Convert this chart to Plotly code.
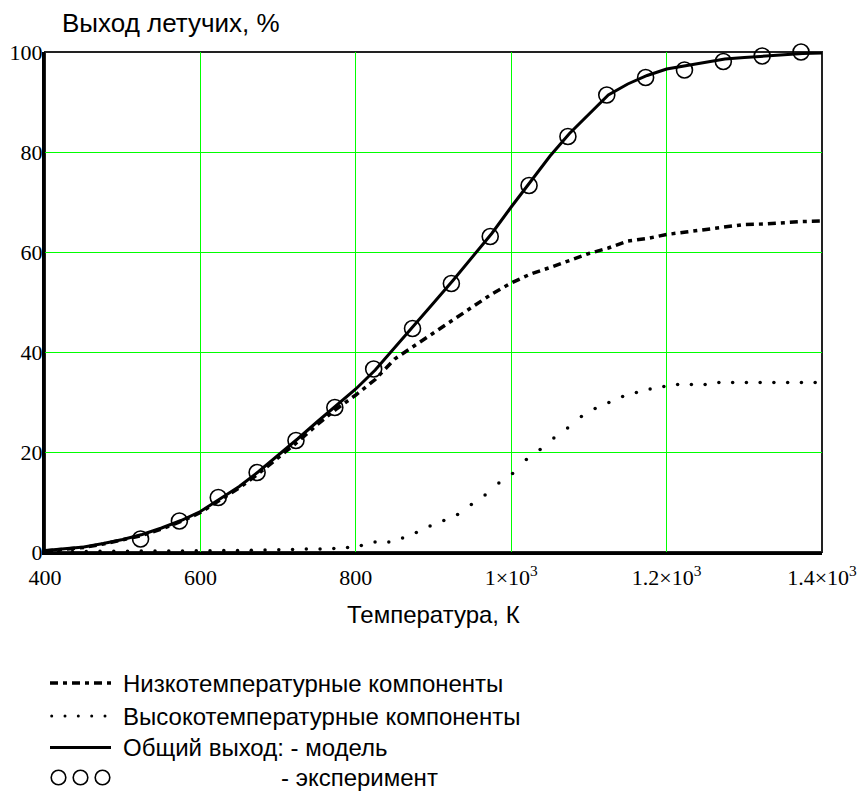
import plotly.graph_objects as go

# ---------------- data ----------------
T_grid = [400, 425, 450, 475, 500, 525, 550, 575, 600, 625, 650, 675, 700, 725, 750, 775,
          800, 825, 850, 875, 900, 925, 950, 975, 1000, 1025, 1050, 1075, 1100, 1125, 1150,
          1175, 1200, 1225, 1250, 1275, 1300, 1325, 1350, 1375, 1400]

low_temp = [0.2, 0.5, 0.9, 1.6, 2.4, 3.3, 4.6, 6.1, 7.9, 10.3, 12.8, 15.7, 18.8, 22.0, 25.4, 28.6,
            31.4, 34.5, 38.6, 41.3, 43.8, 46.4, 49.0, 51.6, 53.8, 55.6, 56.9, 58.3, 59.7, 60.8, 62.2,
            62.7, 63.5, 64.0, 64.5, 64.9, 65.5, 65.6, 65.9, 66.1, 66.2]

total_model = [0.3, 0.6, 1.0, 1.7, 2.5, 3.5, 4.8, 6.3, 8.1, 10.6, 13.1, 16.1, 19.3, 22.6, 26.0, 29.3,
               32.6, 36.4, 40.8, 45.2, 49.8, 54.3, 58.9, 63.7, 69.0, 74.2, 79.2, 83.7, 87.6, 91.4, 93.6,
               95.3, 96.6, 97.3, 98.0, 98.6, 98.9, 99.2, 99.4, 99.7, 99.8]

T_high = [400, 417.7, 435.4, 453.1, 470.8, 488.5, 506.2, 523.9, 541.6, 559.3, 577, 594.7, 612.4,
          630.1, 647.8, 665.5, 683.2, 700.9, 718.6, 736.3, 754, 771.7, 789.4, 807.1, 824.8, 842.5,
          860.2, 877.9, 895.6, 913.3, 931, 948.7, 966.4, 984.1, 1001.8, 1019.5, 1037.2, 1054.9,
          1072.6, 1090.3, 1108, 1125.7, 1143.4, 1161.1, 1178.8, 1196.5, 1214.2, 1231.9, 1249.6,
          1267.3, 1285, 1302.7, 1320.4, 1338.1, 1355.8, 1373.5, 1391.2]

high_temp = [0.1, 0.1, 0.1, 0.1, 0.15, 0.15, 0.15, 0.2, 0.2, 0.2, 0.2, 0.25, 0.25,
             0.3, 0.3, 0.35, 0.4, 0.45, 0.5, 0.6, 0.6, 0.7, 0.9, 1.3, 2.0, 2.0,
             2.8, 3.9, 5.2, 6.3, 7.5, 9.5, 11.4, 13.8, 15.7, 18.5, 20.5, 22.8,
             24.8, 27.1, 28.7, 29.9, 31.1, 31.9, 32.6, 33.1, 33.5, 33.5, 33.5,
             33.9, 33.9, 33.9, 33.9, 33.9, 33.9, 33.9, 33.9]

T_exp = [523, 573, 623, 673, 723, 773, 823, 873, 923, 973, 1023, 1073, 1123, 1173, 1223, 1273, 1323, 1373]
exp_yield = [2.6, 6.2, 10.9, 15.9, 22.3, 28.9, 36.6, 44.7, 53.7, 63.1, 73.3, 83.1, 91.4, 94.9, 96.4, 98.1, 99.2, 100.0]

x_tickvals = [400, 600, 800, 1000, 1200, 1400]
x_ticktext = ["400", "600", "800", "1×10<sup>3</sup>", "1.2×10<sup>3</sup>", "1.4×10<sup>3</sup>"]
y_tickvals = [0, 20, 40, 60, 80, 100]

y_title = "Выход летучих, %"
x_title = "Температура, К"
legend_texts = ["Низкотемпературные компоненты", "Высокотемпературные компоненты",
                "Общий выход: - модель", "- эксперимент"]

# ---------------- layout geometry (pixels) ----------------
W, H = 865, 791
ML, MR, MT, MB = 45, 43, 52, 239
PW = W - ML - MR
PH = H - MT - MB


def px(x):
    return (x - ML) / PW


def py(y):
    return (H - MB - y) / PH


DASHDOT = "8px,5px,4px,5px"
SANS = "Liberation Sans, Arial, sans-serif"
SERIF = "Liberation Serif, Times New Roman, serif"

fig = go.Figure()

fig.add_trace(go.Scatter(x=T_grid, y=low_temp, mode="lines",
                         line=dict(color="black", width=3.5, dash=DASHDOT),
                         name=legend_texts[0], showlegend=False))
fig.add_trace(go.Scatter(x=T_high, y=high_temp, mode="markers",
                         marker=dict(color="black", size=3.5, symbol="circle"),
                         name=legend_texts[1], showlegend=False))
fig.add_trace(go.Scatter(x=T_grid, y=total_model, mode="lines",
                         line=dict(color="black", width=3),
                         name=legend_texts[2], showlegend=False))
fig.add_trace(go.Scatter(x=T_exp, y=exp_yield, mode="markers",
                         marker=dict(symbol="circle-open", size=16, color="black",
                                     line=dict(width=1.6, color="black")),
                         name=legend_texts[3], showlegend=False, cliponaxis=False))

axis_common = dict(showgrid=True, gridcolor="#00FF00", gridwidth=1, zeroline=False,
                   showline=True, linecolor="black", linewidth=3, ticks="",
                   tickfont=dict(family=SERIF, size=22, color="black"))

fig.update_xaxes(range=[400, 1400], tickvals=x_tickvals, ticktext=x_ticktext,
                 ticklabelstandoff=4, **axis_common)
fig.update_yaxes(range=[0, 100], tickvals=y_tickvals, ticklabelstandoff=-5, **axis_common)

shapes = []
# frame (top and right borders)
shapes.append(dict(type="rect", xref="paper", yref="paper", x0=0, x1=1, y0=0, y1=1,
                   line=dict(color="#222222", width=2), layer="below"))

# legend symbols
rows = [683, 716, 747.5, 777.5]
shapes.append(dict(type="line", xref="paper", yref="paper", x0=px(50), x1=px(111),
                   y0=py(rows[0]), y1=py(rows[0]), line=dict(color="black", width=3.5, dash=DASHDOT)))
for cx in [51.7, 65, 78.3, 91.7, 105]:
    shapes.append(dict(type="circle", xref="paper", yref="paper",
                       x0=px(cx - 1.5), x1=px(cx + 1.5), y0=py(rows[1] + 1.5), y1=py(rows[1] - 1.5),
                       fillcolor="black", line=dict(width=0)))
shapes.append(dict(type="line", xref="paper", yref="paper", x0=px(50), x1=px(111),
                   y0=py(rows[2]), y1=py(rows[2]), line=dict(color="black", width=3)))
for cx in [58.5, 80.5, 102.5]:
    shapes.append(dict(type="circle", xref="paper", yref="paper",
                       x0=px(cx - 7.3), x1=px(cx + 7.3), y0=py(rows[3] + 7.3), y1=py(rows[3] - 7.3),
                       line=dict(color="black", width=1.6)))

annotations = [
    dict(text=y_title, x=px(60), y=py(23), xref="paper", yref="paper", xanchor="left",
         yanchor="middle", showarrow=False, font=dict(family=SANS, size=26, color="black")),
    dict(text=x_title, x=px(434), y=py(614), xref="paper", yref="paper", xanchor="center",
         yanchor="middle", showarrow=False, font=dict(family=SANS, size=24, color="black")),
]
for i, txt in enumerate(legend_texts[:3]):
    annotations.append(dict(text=txt, x=px(121), y=py(rows[i]), xref="paper", yref="paper",
                            xanchor="left", yanchor="middle", showarrow=False,
                            font=dict(family=SANS, size=24, color="black")))
annotations.append(dict(text=legend_texts[3], x=px(279), y=py(rows[3]), xref="paper", yref="paper",
                        xanchor="left", yanchor="middle", showarrow=False,
                        font=dict(family=SANS, size=24, color="black")))

fig.update_layout(width=W, height=H, margin=dict(l=ML, r=MR, t=MT, b=MB, autoexpand=False),
                  plot_bgcolor="white", paper_bgcolor="white", showlegend=False,
                  shapes=shapes, annotations=annotations)

fig.write_html("out.html", config={"displayModeBar": False},
               post_script="document.body.style.margin='0px';document.body.style.overflow='hidden';")
